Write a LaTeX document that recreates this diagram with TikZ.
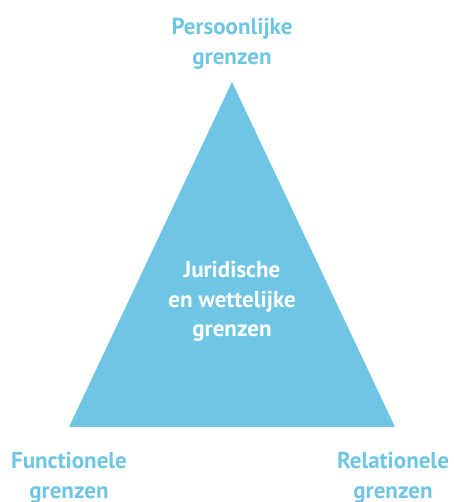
\documentclass[tikz,border=0pt]{standalone}
\usepackage{fontspec}
\setmainfont{PT Sans}
\usepackage{tikz}
\usetikzlibrary{calc,positioning}
\definecolor{lightblue}{RGB}{110,198,228}

\begin{document}
\begin{tikzpicture}[x=1pt,y=1pt]

\tikzset{bluelabel/.style={font=\bfseries\fontsize{23}{29.5}\selectfont,text=lightblue,align=center,inner sep=0pt},
innerlabel/.style={font=\bfseries\fontsize{23}{29.5}\selectfont,text=white,align=center,inner sep=0pt}}

\useasboundingbox (0,0) rectangle (453,502);

% Triangle corners
\coordinate (top) at (232,420);
\coordinate (left) at (69,75);
\coordinate (right) at (395,75);
\fill[lightblue] (top) -- (left) -- (right) -- cycle;

% Labels
\node[bluelabel] (persoonlijk) at (232,458) {Persoonlijke\\grenzen};
\node[bluelabel] (functioneel) at (69,24) {Functionele\\grenzen};
\node[bluelabel] (relationeel) at (393,24) {Relationele\\grenzen};
\node[innerlabel] (juridisch) at (232,200.5) {Juridische\\en wettelijke\\grenzen};

\end{tikzpicture}
\end{document}
